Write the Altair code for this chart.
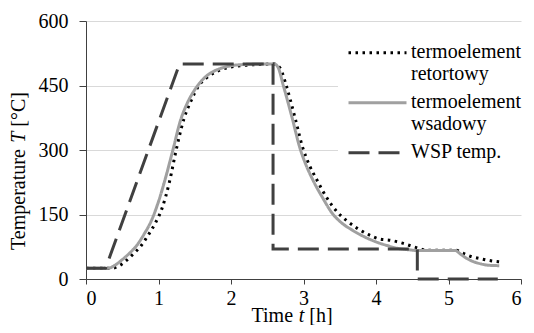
import altair as alt
import pandas as pd

# ---- data ----
series = ["termoelement|retortowy", "termoelement|wsadowy", "WSP temp."]
colors = ["#000000", "#a0a0a0", "#404040"]
dashes = [[2.5, 4.5], [1, 0], [21, 9]]

t_ret = [0, 0.35, 0.45, 0.55, 0.65, 0.75, 0.85, 0.95, 1.05, 1.15, 1.25, 1.35, 1.45, 1.55, 1.65,
         1.75, 1.85, 2.0, 2.2, 2.4, 2.6, 2.68, 2.76, 2.88, 2.99, 3.08, 3.18, 3.31, 3.47, 3.6,
         3.75, 3.9, 4.05, 4.2, 4.35, 4.5, 4.6, 4.7, 5.1, 5.2, 5.3, 5.45, 5.6, 5.7]
T_ret = [25, 25, 30, 42, 58, 75, 100, 128, 165, 225, 305, 372, 415, 448, 466,
         478, 486, 493, 497, 499, 500, 490, 451, 377, 305, 265, 232, 192, 155, 135,
         117, 103, 93, 90, 84, 76, 71, 67, 67, 60, 53, 47, 42, 40]

t_wsad = [0, 0.3, 0.4, 0.5, 0.6, 0.7, 0.8, 0.9, 1.0, 1.1, 1.2, 1.3, 1.4, 1.5, 1.6, 1.7, 1.8,
          1.9, 2.0, 2.2, 2.4, 2.6, 2.65, 2.72, 2.84, 2.95, 3.04, 3.13, 3.26, 3.4, 3.53, 3.67,
          3.83, 3.99, 4.15, 4.31, 4.45, 4.58, 5.1, 5.15, 5.25, 5.35, 5.45, 5.55, 5.7]
T_wsad = [25, 25, 32, 45, 60, 78, 104, 135, 180, 237, 301, 367, 410, 440, 462, 477, 486,
          492, 496, 499, 500, 500, 492, 451, 377, 305, 263, 230, 190, 152, 130, 114,
          99, 87, 78, 71, 68, 66, 66, 60, 48, 40, 35, 32, 31]

t_wsp = [0, 0.27, 1.29, 2.58, 2.58, 4.57, 4.57, 5.68]
T_wsp = [25, 25, 500, 500, 70, 70, 0, 0]

x_ticks = [0, 1, 2, 3, 4, 5, 6]
y_ticks = [0, 150, 300, 450, 600]

rows = []
for name, ts, vs in zip(series, [t_ret, t_wsad, t_wsp], [T_ret, T_wsad, T_wsp]):
    for i, (t, v) in enumerate(zip(ts, vs)):
        rows.append({"series": name, "t": t, "T": v, "i": i})
df = pd.DataFrame(rows)

FONT = "Liberation Serif"

legend = alt.Legend(
    title=None, orient="none", legendX=252, legendY=17, fillColor="white", padding=4,
    labelExpr="split(datum.label, '|')", labelFont=FONT, labelFontSize=20,
    labelColor="black", labelBaseline="alphabetic", labelLimit=400, labelOffset=32,
    symbolType="M-1,-0.36L3,-0.36", symbolSize=841, symbolStrokeWidth=3, symbolOffset=5,
    rowPadding=8,
)

x_enc = alt.X("t:Q", scale=alt.Scale(domain=[0, 6], nice=False),
              axis=alt.Axis(values=x_ticks, title=None, grid=False, format="d", tickSize=5,
                            labelPadding=4, labelFont=FONT, labelFontSize=20, labelColor="black",
                            domainColor="#404040", tickColor="#404040"))
y_enc = alt.Y("T:Q", scale=alt.Scale(domain=[0, 600], nice=False),
              axis=alt.Axis(values=y_ticks, title=None, grid=True, gridColor="#d9d9d9",
                            tickSize=7, labelPadding=11, labelFont=FONT, labelFontSize=20,
                            labelColor="black", domainColor="#404040", tickColor="#404040"))
color_enc = alt.Color("series:N", scale=alt.Scale(domain=series, range=colors), legend=legend)
dash_enc = alt.StrokeDash("series:N", scale=alt.Scale(domain=series, range=dashes), legend=legend)

base = alt.Chart(df).encode(x=x_enc, y=y_enc, color=color_enc, strokeDash=dash_enc,
                            order=alt.Order("i:Q"))

ret = base.transform_filter(alt.datum.series == series[0]).mark_line(
    interpolate="monotone", strokeWidth=3)
wsad = base.transform_filter(alt.datum.series == series[1]).mark_line(
    interpolate="monotone", strokeWidth=3)
wsp = base.transform_filter(alt.datum.series == series[2]).mark_line(strokeWidth=3)

one = pd.DataFrame({"a": [0]})


def label(txt, x, y, angle=0, italic=False):
    return alt.Chart(one).mark_text(
        text=txt, font=FONT, fontSize=20, color="black", align="left", baseline="alphabetic",
        angle=angle, fontStyle="italic" if italic else "normal"
    ).encode(x=alt.value(x), y=alt.value(y))


titles = [
    label("Temperature", -61, 229, 270),
    label("T", -61, 121.8, 270, True),
    label("[°C]", -61, 105.7, 270),
    label("Time", 165.5, 301),
    label("t", 212.7, 301, 0, True),
    label("[h]", 223.3, 301),
]

chart = alt.layer(ret, wsad, wsp, *titles).properties(
    width=435, height=258,
    autosize=alt.AutoSizeParams(type="none"),
    padding={"left": 78, "top": 13, "right": 5, "bottom": 46},
).configure_view(stroke=None)

chart.save("out.html", embed_options={"renderer": "svg", "actions": False})
